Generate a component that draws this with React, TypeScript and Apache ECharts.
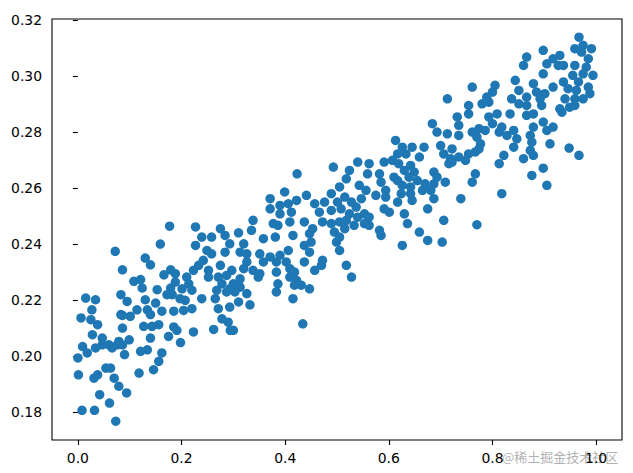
import React, { useEffect, useRef } from "react";
import * as echarts from "echarts";

const xTicks = [0, 0.2, 0.4, 0.6, 0.8, 1.0];
const yTicks = [0.18, 0.2, 0.22, 0.24, 0.26, 0.28, 0.3, 0.32];

const band0 = [[0.072,0.2374],[0.086,0.2308],[0.015,0.2207],[0.034,0.2201],[0.027,0.2165],[0.006,0.2136],[0.025,0.2130],[0.038,0.2112],[0.083,0.2219],[0.083,0.2148],[0.028,0.2076],[0.047,0.2064],[0.009,0.2034],[0.060,0.2040],[0.076,0.2040],[0.018,0.2011],[0.000,0.1993],[0.054,0.1957],[0.063,0.1957],[0.001,0.1933],[0.031,0.1921],[0.038,0.1933],[0.070,0.1921],[0.079,0.1892],[0.042,0.1862],[0.061,0.1832],[0.008,0.1806],[0.032,0.1806],[0.073,0.1767],[0.047,0.2040],[0.034,0.2029],[0.066,0.2029]];
const band1 = [[0.177,0.2464],[0.159,0.2400],[0.130,0.2350],[0.140,0.2326],[0.179,0.2308],[0.166,0.2290],[0.108,0.2267],[0.121,0.2273],[0.124,0.2243],[0.153,0.2237],[0.179,0.2243],[0.182,0.2219],[0.172,0.2219],[0.095,0.2195],[0.130,0.2201],[0.150,0.2189],[0.114,0.2165],[0.134,0.2165],[0.140,0.2148],[0.101,0.2142],[0.086,0.2145],[0.162,0.2160],[0.185,0.2160],[0.127,0.2106],[0.143,0.2106],[0.156,0.2112],[0.086,0.2100],[0.175,0.2070],[0.140,0.2064],[0.099,0.2058],[0.079,0.2052],[0.121,0.2017],[0.134,0.2022],[0.086,0.2040],[0.090,0.2005],[0.162,0.2011],[0.156,0.1981],[0.146,0.1951],[0.118,0.1939],[0.094,0.1868]];
const band2 = [[0.227,0.2461],[0.275,0.2455],[0.239,0.2425],[0.258,0.2425],[0.284,0.2431],[0.227,0.2395],[0.249,0.2377],[0.258,0.2365],[0.284,0.2371],[0.293,0.2401],[0.242,0.2342],[0.233,0.2324],[0.275,0.2324],[0.223,0.2306],[0.252,0.2306],[0.188,0.2294],[0.210,0.2282],[0.252,0.2282],[0.271,0.2282],[0.287,0.2288],[0.188,0.2264],[0.201,0.2240],[0.214,0.2258],[0.220,0.2235],[0.278,0.2258],[0.268,0.2235],[0.287,0.2229],[0.197,0.2205],[0.207,0.2199],[0.239,0.2205],[0.265,0.2205],[0.204,0.2163],[0.220,0.2169],[0.271,0.2169],[0.278,0.2133],[0.290,0.2121],[0.185,0.2104],[0.191,0.2092],[0.262,0.2095],[0.223,0.2086],[0.198,0.2048],[0.294,0.2092]];
const band3 = [[0.371,0.2562],[0.390,0.2538],[0.371,0.2526],[0.390,0.2508],[0.338,0.2485],[0.377,0.2473],[0.386,0.2467],[0.335,0.2449],[0.310,0.2440],[0.358,0.2419],[0.381,0.2425],[0.320,0.2401],[0.313,0.2371],[0.326,0.2365],[0.351,0.2365],[0.371,0.2354],[0.390,0.2360],[0.326,0.2336],[0.358,0.2336],[0.383,0.2336],[0.320,0.2312],[0.338,0.2306],[0.297,0.2306],[0.351,0.2294],[0.383,0.2300],[0.313,0.2276],[0.348,0.2282],[0.300,0.2258],[0.293,0.2240],[0.313,0.2246],[0.386,0.2258],[0.383,0.2229],[0.303,0.2229],[0.326,0.2223],[0.310,0.2193],[0.293,0.2175],[0.332,0.2183],[0.300,0.2092]];
const band4 = [[0.493,0.2675],[0.423,0.2651],[0.399,0.2586],[0.489,0.2580],[0.505,0.2604],[0.441,0.2574],[0.422,0.2556],[0.406,0.2544],[0.457,0.2544],[0.476,0.2550],[0.501,0.2550],[0.412,0.2514],[0.466,0.2514],[0.489,0.2520],[0.409,0.2479],[0.437,0.2479],[0.472,0.2479],[0.489,0.2473],[0.505,0.2479],[0.453,0.2455],[0.495,0.2443],[0.415,0.2431],[0.447,0.2437],[0.450,0.2407],[0.437,0.2395],[0.499,0.2407],[0.406,0.2377],[0.447,0.2371],[0.505,0.2377],[0.402,0.2336],[0.437,0.2336],[0.472,0.2342],[0.470,0.2324],[0.457,0.2306],[0.409,0.2312],[0.418,0.2300],[0.409,0.2282],[0.422,0.2270],[0.418,0.2253],[0.431,0.2253],[0.447,0.2240],[0.415,0.2205],[0.434,0.2115]];
const band5 = [[0.540,0.2693],[0.562,0.2687],[0.591,0.2693],[0.524,0.2663],[0.559,0.2651],[0.582,0.2651],[0.610,0.2639],[0.518,0.2633],[0.585,0.2621],[0.543,0.2610],[0.556,0.2592],[0.594,0.2592],[0.515,0.2568],[0.575,0.2574],[0.594,0.2568],[0.547,0.2562],[0.528,0.2550],[0.508,0.2526],[0.537,0.2532],[0.591,0.2526],[0.601,0.2514],[0.524,0.2508],[0.553,0.2508],[0.518,0.2485],[0.540,0.2496],[0.562,0.2496],[0.533,0.2467],[0.553,0.2473],[0.515,0.2455],[0.562,0.2467],[0.582,0.2449],[0.585,0.2431],[0.505,0.2425],[0.518,0.2324],[0.528,0.2282]];
const band6 = [[0.684,0.2830],[0.693,0.2800],[0.713,0.2794],[0.613,0.2770],[0.626,0.2746],[0.645,0.2746],[0.668,0.2746],[0.700,0.2752],[0.617,0.2722],[0.633,0.2722],[0.659,0.2711],[0.706,0.2722],[0.607,0.2699],[0.619,0.2687],[0.642,0.2681],[0.716,0.2687],[0.630,0.2663],[0.649,0.2657],[0.687,0.2657],[0.639,0.2639],[0.693,0.2639],[0.617,0.2627],[0.655,0.2627],[0.670,0.2615],[0.687,0.2615],[0.709,0.2621],[0.626,0.2610],[0.642,0.2604],[0.665,0.2592],[0.681,0.2592],[0.624,0.2580],[0.642,0.2580],[0.617,0.2550],[0.645,0.2556],[0.687,0.2562],[0.675,0.2526],[0.630,0.2508],[0.636,0.2473],[0.706,0.2485],[0.659,0.2443],[0.675,0.2413],[0.703,0.2407],[0.626,0.2395]];
const band7 = [[0.761,0.2961],[0.805,0.2967],[0.800,0.2943],[0.789,0.2925],[0.713,0.2919],[0.754,0.2895],[0.780,0.2901],[0.793,0.2907],[0.754,0.2865],[0.793,0.2854],[0.809,0.2865],[0.732,0.2854],[0.800,0.2830],[0.813,0.2800],[0.735,0.2824],[0.761,0.2800],[0.774,0.2812],[0.786,0.2806],[0.735,0.2788],[0.770,0.2782],[0.777,0.2758],[0.722,0.2740],[0.774,0.2740],[0.719,0.2705],[0.735,0.2711],[0.754,0.2722],[0.767,0.2729],[0.748,0.2699],[0.722,0.2693],[0.822,0.2717],[0.813,0.2687],[0.767,0.2651],[0.761,0.2621],[0.818,0.2580],[0.739,0.2562],[0.770,0.2469]];
const band8 = [[0.898,0.3092],[0.866,0.3068],[0.917,0.3062],[0.860,0.3038],[0.905,0.3044],[0.927,0.3038],[0.898,0.3008],[0.844,0.2985],[0.879,0.2973],[0.917,0.2961],[0.851,0.2949],[0.885,0.2943],[0.901,0.2937],[0.837,0.2919],[0.866,0.2925],[0.892,0.2919],[0.851,0.2901],[0.895,0.2895],[0.866,0.2895],[0.930,0.2883],[0.834,0.2865],[0.866,0.2860],[0.879,0.2865],[0.898,0.2836],[0.917,0.2818],[0.818,0.2818],[0.841,0.2806],[0.879,0.2818],[0.905,0.2806],[0.828,0.2788],[0.873,0.2788],[0.847,0.2776],[0.876,0.2764],[0.911,0.2758],[0.841,0.2746],[0.873,0.2735],[0.860,0.2705],[0.879,0.2717],[0.898,0.2671],[0.876,0.2645],[0.905,0.2610]];
const band9 = [[0.967,0.3139],[0.975,0.3110],[0.959,0.3098],[0.991,0.3098],[0.972,0.3086],[0.930,0.3074],[0.985,0.3062],[0.937,0.3038],[0.959,0.3038],[0.981,0.3032],[0.994,0.3003],[0.955,0.3003],[0.975,0.3008],[0.937,0.2979],[0.966,0.2979],[0.985,0.2961],[0.946,0.2955],[0.940,0.2919],[0.962,0.2949],[0.959,0.2919],[0.988,0.2937],[0.975,0.2919],[0.949,0.2889],[0.959,0.2895],[0.934,0.2871],[0.948,0.2743],[0.967,0.2717]];

const points = [...band0, ...band1, ...band2, ...band3, ...band4, ...band5, ...band6, ...band7, ...band8, ...band9];

export default function App() {
  const ref = useRef<HTMLDivElement>(null);
  useEffect(() => {
    if (!ref.current) return;
    const chart = echarts.init(ref.current, null, { renderer: "svg" });
    const labelStyle = { color: "#000", fontSize: 13.9, fontFamily: "DejaVu Sans" };
    chart.setOption({
      animation: false,
      backgroundColor: "#fff",
      grid: { left: 52, right: 11, top: 19, bottom: 33, show: true, borderColor: "#000", borderWidth: 1.1, backgroundColor: "transparent" },
      xAxis: {
        type: "value", min: -0.05, max: 1.05,
        axisLine: { show: false },
        splitLine: { show: false },
        axisTick: { show: true, length: 5, customValues: xTicks, lineStyle: { color: "#000", width: 1.1 } },
        axisLabel: { ...labelStyle, margin: 11, customValues: xTicks, formatter: (v: number) => v.toFixed(1) },
      },
      yAxis: {
        type: "value", min: 0.17, max: 0.3204,
        axisLine: { show: false },
        splitLine: { show: false },
        axisTick: { show: true, length: 5, customValues: yTicks, lineStyle: { color: "#000", width: 1.1 } },
        axisLabel: { ...labelStyle, margin: 10, customValues: yTicks, formatter: (v: number) => v.toFixed(2) },
      },
      series: [{
        type: "scatter",
        data: points,
        symbolSize: 9.5,
        clip: false,
        itemStyle: { color: "#1f77b4", opacity: 1 },
      }],
      graphic: [{
        type: "text", left: 502, top: 450,
        style: { text: "@稀土掘金技术社区", fill: "rgba(150,150,150,0.75)", font: "13px 'Noto Sans CJK SC'" },
      }],
    });
    return () => chart.dispose();
  }, []);
  return <div ref={ref} style={{ position: "fixed", left: 0, top: 0, width: 633, height: 473 }} />;
}
